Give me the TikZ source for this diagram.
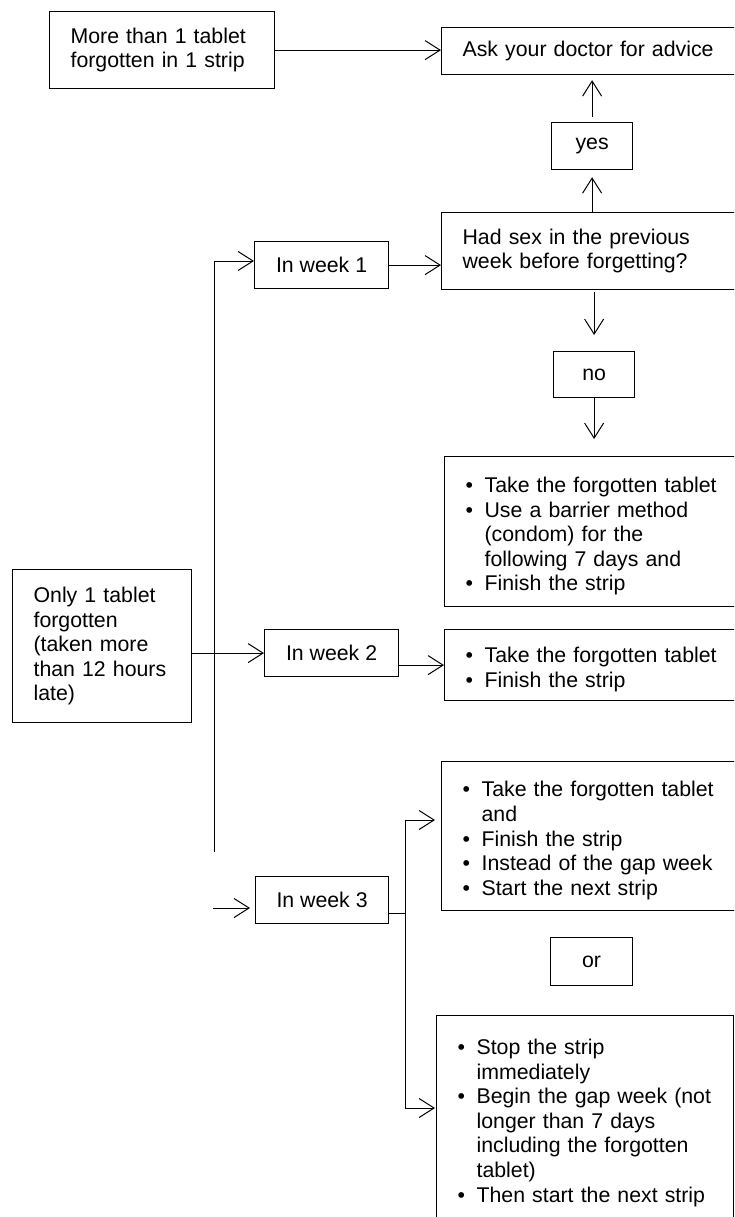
\documentclass[tikz,border=0pt]{standalone}
\usepackage{fontspec}
\setmainfont{Liberation Sans}
\usetikzlibrary{arrows.meta}
\newcommand{\pillitem}[1]{\par\noindent\hangindent=19pt\hangafter=1\makebox[19pt][l]{\textbullet}#1}

\begin{document}
\begin{tikzpicture}[
        x=1pt, y=-1pt,
        every node/.style={draw, line width=1.2pt, rectangle, inner ysep=0pt,
            font=\fontsize{21.3}{24.6}\selectfont},
        leftbox/.style n args={3}{anchor=north west, inner xsep=21pt, align=left,
            minimum width=#1pt, text width=#2pt, minimum height=#3pt},
        midbox/.style n args={2}{anchor=north west, inner xsep=0pt, align=center,
            minimum width=#1pt, minimum height=#2pt},
        wire/.style={line width=1pt},
        link/.style={wire, -{Straight Barb[length=15pt,width=19pt]}},
    ]
    \useasboundingbox (0,0) rectangle (734,1217);
    \clip (0,0) rectangle (734,1217);

    % boxes
    \node[leftbox={225}{183}{77}] (more) at (49,11) {More than 1 tablet\\forgotten in 1 strip};
    \node[leftbox={330}{288}{47}] (doctor) at (441,27) {Ask your doctor for advice};
    \node[midbox={81}{47}] (yes) at (551,122) {yes};
    \node[leftbox={330}{288}{77}] (question) at (441,212) {Had sex in the previous\\week before forgetting?};
    \node[midbox={134}{47}] (weekone) at (254,241) {In week 1};
    \node[midbox={81}{46}] (no) at (553,351) {no};
    \node[leftbox={330}{288}{150}] (weekonedo) at (444,456) {%
        \pillitem{Take the forgotten tablet}
        \pillitem{Use a barrier method\newline(condom) for the\newline following 7 days and}
        \pillitem{Finish the strip}};
    \node[leftbox={179}{137}{153}] (only) at (12,569) {Only 1 tablet\\forgotten\\(taken more\\than 12 hours\\late)};
    \node[midbox={134}{47}] (weektwo) at (264,629) {In week 2};
    \node[leftbox={330}{288}{71}] (weektwodo) at (444,629) {%
        \pillitem{Take the forgotten tablet}
        \pillitem{Finish the strip}};
    \node[leftbox={330}{288}{149}] (keepgoing) at (441,761) {%
        \pillitem{Take the forgotten tablet\newline and}
        \pillitem{Finish the strip}
        \pillitem{Instead of the gap week}
        \pillitem{Start the next strip}};
    \node[midbox={133}{47}] (weekthree) at (255,876) {In week 3};
    \node[midbox={82}{48}] (or) at (550,937) {or};
    \node[leftbox={297}{255}{205}] (stopstrip) at (436,1015) {%
        \pillitem{Stop the strip\newline immediately}
        \pillitem{Begin the gap week (not\newline longer than 7 days\newline including the forgotten\newline tablet)}
        \pillitem{Then start the next strip}};

    % connectors
    \coordinate (trunktop) at (214,261);
    \coordinate (trunkend) at (214,852);
    \coordinate (weekthreein) at (213,908);
    \coordinate (fork) at (405,913);
    \coordinate (forkup) at (405,820);
    \coordinate (forkdown) at (405,1108);

    \draw[link] (more) -- (more -| doctor.west);
    \draw[link, shorten <=5pt, shorten >=5pt] (yes.north) -- (yes.north |- doctor.south);
    \draw[link, shorten >=7pt] (yes.south |- question.north) -- (yes.south);
    \draw[link, shorten <=2pt, shorten >=16pt] (no.north |- question.south) -- (no.north);
    \draw[link, shorten >=17pt] (no.south) -- (no.south |- weekonedo.north);
    \draw[link] (weekone) -- (question.west |- weekone);
    \draw[link] (trunkend) -- (trunktop) -- (trunktop -| weekone.west);
    \draw[link] (weektwo.west -| only.east) -- (weektwo.west);
    \draw[link] (weektwodo.west -| weektwo.east) -- (weektwodo.west);
    \draw[link, shorten >=5pt] (weekthreein) -- (weekthreein -| weekthree.west);
    \draw[wire] (weekthree.east |- fork) -- (fork);
    \draw[link, shorten >=6pt] (fork) -- (forkup) -- (forkup -| keepgoing.west);
    \draw[link, shorten >=1pt] (fork) -- (forkdown) -- (forkdown -| stopstrip.west);
\end{tikzpicture}
\end{document}
